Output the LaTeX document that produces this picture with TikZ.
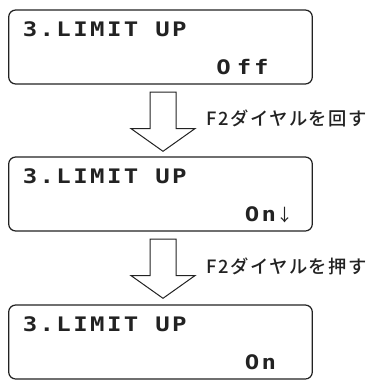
\documentclass[tikz,border=0pt]{standalone}
\usepackage{fontspec}
\usetikzlibrary{calc}
\newfontfamily\lcdfont[FakeStretch=1.2,LetterSpace=12]{DejaVu Sans Mono Bold}
\newfontfamily\jpfont[LetterSpace=8]{Noto Sans CJK JP Medium}
\newfontfamily\arrfont{Noto Sans CJK JP}
\definecolor{ink}{HTML}{222222}
\tikzset{
  lcdbox/.style={draw=ink, line width=1.2pt, rounded corners=7pt, minimum width=303.6pt, minimum height=74pt, inner sep=0pt},
  lcdtext/.style={anchor=base west, inner sep=0pt, text=ink, font=\lcdfont\fontsize{20}{21}\selectfont},
  jplabel/.style={anchor=west, inner sep=0pt, text=ink, font=\jpfont\fontsize{18.3}{19}\selectfont},
  arr/.style={draw=ink, line width=1pt, fill=white},
  hollow/.pic={\draw[arr] (-13,0) -- (-13,36.6) -- (-32,36.6) -- (0,59.3) -- (32,36.6) -- (13,36.6) -- (13,0) -- cycle;}
}
\begin{document}
\begin{tikzpicture}[x=1pt,y=-1pt]
\useasboundingbox (0,0) rectangle (368,380);
% boxes
\node[lcdbox] (b1) at (160.5,47) {};
\node[lcdbox] (b2) at (160.5,194) {};
\node[lcdbox] (b3) at (160.5,342) {};
% texts
\node[lcdtext] (t1a) at ($(b1.north west)+(14.5,26.7)$) {3.LIMIT\kern17pt UP};
\node[lcdtext] (t1b) at ($(b1.north west)+(208,65)$) {O\kern6pt f\kern3pt f};
\node[lcdtext] (t2a) at ($(b2.north west)+(14.5,26.7)$) {3.LIMIT\kern17pt UP};
\node[lcdtext] (t2b) at ($(b2.north west)+(236.5,65)$) {On{\arrfont\fontsize{17}{18}\selectfont ↓}};
\node[lcdtext] (t3a) at ($(b3.north west)+(14.5,26.7)$) {3.LIMIT\kern17pt UP};
\node[lcdtext] (t3b) at ($(b3.north west)+(236.5,65)$) {On};
% arrows
\pic at ($(b1.south)+(2.5,7.4)$) {hollow};
\pic at ($(b2.south)+(2.5,7.4)$) {hollow};
% labels
\node[jplabel] (l1) at ($(b1.south)+(46,34)$) {F2ダイヤルを回す};
\node[jplabel] (l2) at ($(b2.south)+(46,35)$) {F2ダイヤルを押す};
\end{tikzpicture}
\end{document}
